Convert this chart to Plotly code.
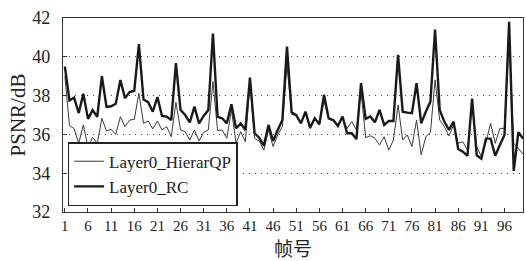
import plotly.graph_objects as go

frames = list(range(1, 101))

hierarqp = [39.0, 36.45, 36.3, 35.54, 36.49, 35.31, 35.85, 35.54, 36.83, 36.18,
            36.26, 36.0, 36.91, 36.4, 36.74, 36.77, 38.12, 36.57, 36.69, 36.28,
            36.69, 36.23, 36.4, 35.88, 37.66, 36.23, 36.14, 35.71, 36.23, 35.66,
            36.1, 36.23, 38.72, 36.2, 36.23, 35.8, 37.26, 35.54, 36.14, 35.62,
            38.64, 35.8, 35.66, 35.19, 36.23, 35.37, 35.97, 36.4, 39.59, 37.04,
            36.95, 36.6, 37.1, 36.3, 36.8, 36.5, 37.73, 36.8, 36.7, 36.5,
            36.83, 36.31, 36.66, 36.23, 38.21, 35.83, 35.93, 35.8, 35.45, 35.88,
            35.19, 35.71, 37.52, 35.71, 35.97, 35.37, 36.74, 34.94, 35.88, 36.1,
            38.81, 36.75, 36.4, 35.92, 36.49, 35.54, 35.62, 35.19, 37.52, 35.37,
            34.85, 35.6, 36.57, 35.54, 36.31, 36.31, 41.0, 35.54, 35.28, 34.99]

rc = [39.5, 37.75, 37.9, 37.1, 38.1, 36.8, 37.25, 36.9, 39.0, 37.42,
      37.45, 37.58, 38.8, 37.87, 38.18, 38.25, 40.65, 37.8, 37.66, 37.17,
      37.92, 36.95, 36.92, 36.74, 39.67, 37.26, 37.0, 36.62, 37.43, 36.57,
      36.95, 37.26, 41.2, 36.9, 36.83, 36.57, 37.55, 36.31, 36.57, 36.23,
      38.93, 36.06, 35.83, 35.42, 36.49, 35.66, 36.23, 36.74, 40.53, 37.14,
      37.0, 36.57, 37.17, 36.35, 36.83, 36.52, 38.04, 36.83, 36.74, 36.43,
      36.92, 36.06, 36.06, 35.76, 38.64, 36.8, 36.92, 36.62, 37.26, 36.49,
      36.69, 36.69, 40.1, 37.17, 37.12, 37.09, 38.64, 36.57, 37.17, 37.69,
      41.4, 37.26, 36.66, 36.23, 36.66, 35.25, 35.11, 34.9, 37.85, 34.92,
      34.75, 35.78, 35.78, 34.9, 35.45, 35.97, 41.8, 34.12, 36.12, 35.78]

x_ticks = list(range(1, 100, 5))
y_ticks = [32, 34, 36, 38, 40, 42]

serif = "Liberation Serif"

fig = go.Figure()
fig.add_trace(go.Scatter(x=frames, y=hierarqp, mode="lines", name="Layer0_HierarQP",
                         line=dict(color="#3a3a3a", width=1)))
fig.add_trace(go.Scatter(x=frames, y=rc, mode="lines", name="Layer0_RC",
                         line=dict(color="#1a1a1a", width=2.4)))

fig.update_layout(
    width=526, height=261,
    margin=dict(l=63, r=3, t=18, b=49, autoexpand=False),
    paper_bgcolor="white", plot_bgcolor="white",
    font=dict(family=serif, size=16, color="#222"),
    showlegend=True,
    legend=dict(x=0.01, y=0.03, xanchor="left", yanchor="bottom",
                bgcolor="white", bordercolor="#222", borderwidth=1.5,
                font=dict(family=serif, size=17, color="#222"),
                itemwidth=30, tracegroupgap=0,
                traceorder="normal"),
)
fig.update_xaxes(
    range=[0.6, 100], tickvals=x_ticks, ticktext=[str(v) for v in x_ticks],
    showgrid=False, zeroline=False, automargin=False,
    showline=True, linecolor="#333", linewidth=1.2, mirror=True,
    ticks="inside", ticklen=4, tickcolor="#333",
    tickfont=dict(family=serif, size=15, color="#222"),
    title=dict(text="帧号", font=dict(family="Noto Sans CJK SC", size=19, color="#222"), standoff=7),
)
fig.update_yaxes(
    range=[32, 42], tickvals=y_ticks,
    showgrid=True, gridcolor="#444", griddash="1px,5px", gridwidth=1.2,
    zeroline=False, automargin=False,
    showline=True, linecolor="#333", linewidth=1.2, mirror=True,
    ticks="inside", ticklen=4, tickcolor="#333", ticklabelstandoff=8,
    tickfont=dict(family=serif, size=18, color="#222"),
    title=dict(text="PSNR/dB", font=dict(family=serif, size=21, color="#222"), standoff=0),
)

fig.write_html("out.html", config={"displayModeBar": False},
               post_script="document.body.style.margin='0';")
